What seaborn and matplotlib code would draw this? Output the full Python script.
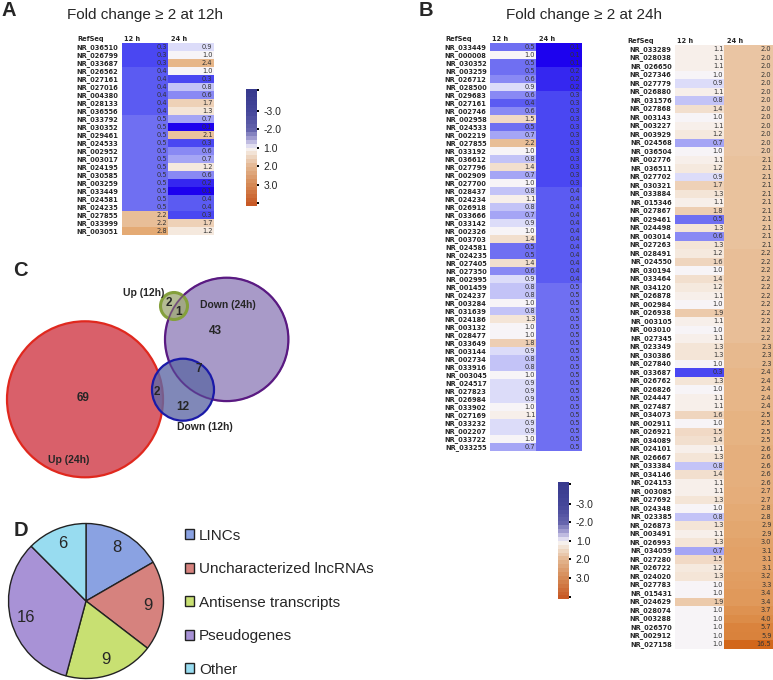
import numpy as np
import matplotlib
matplotlib.use("Agg")
import matplotlib.pyplot as plt
import seaborn as sns
import pandas as pd
from matplotlib.colors import LinearSegmentedColormap, ListedColormap, Normalize, to_rgba
from matplotlib.patches import Circle
from matplotlib.cm import ScalarMappable

sns.set_style("white")
plt.rcParams['font.family'] = ['Liberation Sans', 'DejaVu Sans']

# ---------------- data ----------------
# panel A : fold change >= 2 at 12h
a_ids = ["NR_036510", "NR_026799", "NR_033687", "NR_026562", "NR_027161", "NR_027016",
         "NR_004380", "NR_028133", "NR_036556", "NR_033792", "NR_030352", "NR_029461",
         "NR_024533", "NR_002952", "NR_003017", "NR_024195", "NR_030585", "NR_003259",
         "NR_033449", "NR_024581", "NR_024235", "NR_027855", "NR_033999", "NR_003051"]
a_12h = [0.3, 0.3, 0.3, 0.4, 0.4, 0.4, 0.4, 0.4, 0.4, 0.5, 0.5, 0.5,
         0.5, 0.5, 0.5, 0.5, 0.5, 0.5, 0.5, 0.5, 0.5, 2.2, 2.2, 2.8]
a_24h = [0.9, 1.0, 2.4, 1.0, 0.3, 0.8, 0.6, 1.7, 1.3, 0.7, 0.1, 2.1,
         0.3, 0.6, 0.7, 1.2, 0.6, 0.2, 0.1, 0.4, 0.4, 0.3, 1.7, 1.2]

# panel B left : down at 24h
bl_ids = ["NR_033449", "NR_000008", "NR_030352", "NR_003259", "NR_026712", "NR_028500",
          "NR_029683", "NR_027161", "NR_002746", "NR_002958", "NR_024533", "NR_002219",
          "NR_027855", "NR_033192", "NR_036612", "NR_027796", "NR_002909", "NR_027700",
          "NR_028437", "NR_024234", "NR_026918", "NR_033666", "NR_033142", "NR_002326",
          "NR_003703", "NR_024581", "NR_024235", "NR_027405", "NR_027350", "NR_002995",
          "NR_001459", "NR_024237", "NR_003284", "NR_031639", "NR_024186", "NR_003132",
          "NR_028477", "NR_033649", "NR_003144", "NR_002734", "NR_033916", "NR_003045",
          "NR_024517", "NR_027823", "NR_026984", "NR_033902", "NR_027169", "NR_033232",
          "NR_002207", "NR_033722", "NR_033255"]
bl_12h = [0.5, 1.0, 0.5, 0.5, 0.6, 0.9, 0.6, 0.4, 0.6, 1.5, 0.5, 0.7,
          2.2, 1.0, 0.8, 1.4, 0.7, 1.0, 0.8, 1.1, 0.8, 0.7, 0.9, 1.0,
          1.4, 0.5, 0.5, 1.4, 0.6, 0.9, 0.8, 0.8, 1.0, 0.8, 1.3, 1.0,
          1.0, 1.8, 0.9, 0.8, 0.8, 1.0, 0.9, 0.9, 0.9, 1.0, 1.1, 0.9,
          0.9, 1.0, 0.7]
bl_24h = [0.1, 0.1, 0.1, 0.2, 0.2, 0.2, 0.3, 0.3, 0.3, 0.3, 0.3, 0.3,
          0.3, 0.3, 0.3, 0.3, 0.3, 0.3, 0.4, 0.4, 0.4, 0.4, 0.4, 0.4,
          0.4, 0.4, 0.4, 0.4, 0.4, 0.4, 0.5, 0.5, 0.5, 0.5, 0.5, 0.5,
          0.5, 0.5, 0.5, 0.5, 0.5, 0.5, 0.5, 0.5, 0.5, 0.5, 0.5, 0.5,
          0.5, 0.5, 0.5]

# panel B right : up at 24h
br_ids = ["NR_033289", "NR_028038", "NR_026650", "NR_027346", "NR_027779", "NR_026880",
          "NR_031576", "NR_027868", "NR_003143", "NR_003227", "NR_003929", "NR_024568",
          "NR_036504", "NR_002776", "NR_036511", "NR_027702", "NR_030321", "NR_033884",
          "NR_015346", "NR_027867", "NR_029461", "NR_024498", "NR_003014", "NR_027263",
          "NR_028491", "NR_024550", "NR_030194", "NR_033464", "NR_034120", "NR_026878",
          "NR_002984", "NR_026938", "NR_003105", "NR_003010", "NR_027345", "NR_023349",
          "NR_030386", "NR_027840", "NR_033687", "NR_026762", "NR_026826", "NR_024447",
          "NR_027487", "NR_034073", "NR_002911", "NR_026921", "NR_034089", "NR_024101",
          "NR_026667", "NR_033384", "NR_034146", "NR_024153", "NR_003085", "NR_027692",
          "NR_024348", "NR_023385", "NR_026873", "NR_003491", "NR_026993", "NR_034059",
          "NR_027280", "NR_026722", "NR_024020", "NR_027783", "NR_015431", "NR_024629",
          "NR_028074", "NR_003288", "NR_026570", "NR_002912", "NR_027158"]
br_12h = [1.1, 1.1, 1.1, 1.0, 0.9, 1.1, 0.8, 1.4, 1.0, 1.1, 1.2, 0.7,
          1.0, 1.1, 1.2, 0.9, 1.7, 1.3, 1.1, 1.8, 0.5, 1.3, 0.6, 1.3,
          1.2, 1.6, 1.0, 1.4, 1.2, 1.1, 1.0, 1.9, 1.1, 1.0, 1.1, 1.3,
          1.3, 1.0, 0.3, 1.3, 1.0, 1.1, 1.1, 1.6, 1.0, 1.5, 1.4, 1.1,
          1.3, 0.8, 1.4, 1.1, 1.1, 1.3, 1.0, 0.8, 1.3, 1.1, 1.3, 0.7,
          1.5, 1.2, 1.3, 1.0, 1.0, 1.9, 1.0, 1.0, 1.0, 1.0, 1.0]
br_24h = [2.0, 2.0, 2.0, 2.0, 2.0, 2.0, 2.0, 2.0, 2.0, 2.0, 2.0, 2.0,
          2.0, 2.1, 2.1, 2.1, 2.1, 2.1, 2.1, 2.1, 2.1, 2.1, 2.1, 2.1,
          2.2, 2.2, 2.2, 2.2, 2.2, 2.2, 2.2, 2.2, 2.2, 2.2, 2.2, 2.3,
          2.3, 2.3, 2.4, 2.4, 2.4, 2.4, 2.4, 2.5, 2.5, 2.5, 2.5, 2.6,
          2.6, 2.6, 2.6, 2.6, 2.7, 2.7, 2.8, 2.8, 2.9, 2.9, 3.0, 3.1,
          3.1, 3.1, 3.2, 3.3, 3.4, 3.4, 3.7, 4.0, 5.7, 5.9, 16.5]

cbar_labels = ["3.0", "2.0", "1.0", "-2.0", "-3.0"]

# panel C : Venn counts
venn_sets = ["Up (24h)", "Down (24h)", "Down (12h)", "Up (12h)"]
venn_counts = [69, 43, 12, 2, 7, 2, 1]

# panel D : lncRNA classes
classes = ["LINCs", "Uncharacterized lncRNAs", "Antisense transcripts", "Pseudogenes", "Other"]
class_counts = [8, 9, 9, 16, 6]

# ---------------- styles ----------------
W, H = 773, 680
fig = plt.figure(figsize=(W / 100, H / 100), dpi=100)


def box(x0, y0, x1, y1):
    return [x0 / W, 1 - y1 / H, (x1 - x0) / W, (y1 - y0) / H]


LMIN, LMAX = -3.4, 4.1
nodes = [(-3.4, "#1c00ee"), (-2.32, "#3628f0"), (-1.74, "#4a48f2"), (-1.32, "#5c5cf2"),
         (-1.0, "#7070f2"), (-0.74, "#8a8af4"), (-0.51, "#a6a6f5"), (-0.32, "#c2c2f7"),
         (-0.15, "#dedef9"), (0.0, "#f7f5f8"), (0.14, "#f7efe9"), (0.38, "#f4e4d6"),
         (0.58, "#f1dac6"), (0.85, "#edcdb2"), (1.0, "#eac6a4"), (1.5, "#e4a972"),
         (2.0, "#dc8c48"), (4.1, "#d2661a")]
cell_cmap = LinearSegmentedColormap.from_list(
    "fc", [((v - LMIN) / (LMAX - LMIN), c) for v, c in nodes])

# overlay axes in pixel units for labels and the venn diagram
ov = fig.add_axes([0, 0, 1, 1])
ov.set_xlim(0, W)
ov.set_ylim(H, 0)
ov.axis('off')


def draw_table(rect, ids, v12, v24):
    ax = fig.add_axes(rect)
    df = pd.DataFrame({"12 h": v12, "24 h": v24}, index=ids)
    sns.heatmap(np.log2(df), cmap=cell_cmap, vmin=LMIN, vmax=LMAX, cbar=False, ax=ax,
                xticklabels=False, yticklabels=True, linewidths=0)
    ax.set_yticklabels(ids, rotation=0, fontsize=4.8, fontweight='bold',
                       family='DejaVu Sans')
    ax.tick_params(axis='y', length=0, pad=2.4)
    ax.set_ylabel('')
    for i in range(len(ids)):
        ax.text(0.985, i + 0.5, f"{v12[i]:.1f}", ha='right', va='center',
                fontsize=4.8, color='#333333', family='DejaVu Sans')
        ax.text(1.97, i + 0.5, f"{v24[i]:.1f}", ha='right', va='center',
                fontsize=4.8, color='#333333', family='DejaVu Sans')
    hk = dict(va='center', fontsize=4.8, fontweight='bold', family='DejaVu Sans',
              clip_on=False)
    ax.text(-0.97, -0.5, "RefSeq", ha='left', **hk)
    ax.text(0.05, -0.5, "12 h", ha='left', **hk)
    ax.text(1.07, -0.5, "24 h", ha='left', **hk)
    return ax


draw_table(box(121.7, 43.3, 214, 235.3), a_ids, a_12h, a_24h)
draw_table(box(490, 43.3, 581.7, 451.3), bl_ids, bl_12h, bl_24h)
draw_table(box(675, 45, 773, 648.5), br_ids, br_12h, br_24h)

# colour key bars
cb_nodes = [(-0.15, "#c85a26"), (1.0, "#d68c58"), (2.0, "#e4b894"), (2.8, "#f4ebe2"),
            (3.0, "#f8f6f8"), (3.15, "#dcd8ee"), (3.5, "#a8a4d4"), (4.0, "#6564ac"),
            (5.0, "#45479a"), (6.17, "#383a8e")]
lo, hi = -0.15, 6.17
cb_smooth = LinearSegmentedColormap.from_list(
    "cb", [((v - lo) / (hi - lo), c) for v, c in cb_nodes])
cb_cmap = ListedColormap(cb_smooth(np.linspace(0, 1, 30)))
for rect in [box(246, 89, 257, 206), box(558.3, 482.3, 569.3, 599.3)]:
    cax = fig.add_axes(rect)
    cb = fig.colorbar(ScalarMappable(Normalize(lo, hi), cb_cmap), cax=cax)
    cb.outline.set_visible(False)
    cb.set_ticks([0, 1, 2, 3, 4, 5, 6.1])
    cb.set_ticklabels([""] + cbar_labels + [""])
    cax.tick_params(axis='y', direction='inout', length=3.5, width=1.4, color='black',
                    pad=3, labelsize=7.5)

# panel labels and titles
lk = dict(fontsize=14.5, fontweight='bold', ha='center', va='center')
ov.text(8.5, 10.5, "A", **lk)
ov.text(426, 10.5, "B", **lk)
ov.text(20, 270.5, "C", **lk)
ov.text(20.5, 530.5, "D", **lk)
ov.text(67, 14.5, "Fold change \u2265 2 at 12h", fontsize=11, ha='left', va='center')
ov.text(506, 14.5, "Fold change \u2265 2 at 24h", fontsize=11, ha='left', va='center')

# venn diagram
circles = [(85, 399.3, 78, "#d9606a", 1.0, "#e0281e", 1.6),
           (226.7, 339.4, 61.7, "#a89ac8", 1.0, "#5a1a82", 1.6),
           (183, 389.7, 31, "#606aa6", 0.8, "#1a1aa8", 1.6),
           (174, 306, 13.5, "#a1ab79", 0.8, "#84a03c", 2.2)]
for cx, cy, r, fc, al, ec, lw in circles:
    ov.add_patch(Circle((cx, cy), r, facecolor=to_rgba(fc, al), edgecolor=ec, linewidth=lw))
# outline of the Down (24h) circle shows through the smaller circles
cx, cy, r = circles[1][:3]
ov.add_patch(Circle((cx, cy), r, facecolor='none', edgecolor=circles[1][5],
                    linewidth=1.0, alpha=0.6))

vk = dict(fontweight='bold', ha='center', va='center')
count_pos = [(83.3, 398.3), (215.7, 330.7), (182.7, 407.3), (156.7, 391.7),
             (199, 369), (169.3, 303.3), (179, 311.7)]
for (x, y), n in zip(count_pos, venn_counts):
    ov.text(x, y, str(n), fontsize=8.5, **vk)
set_pos = [(68.3, 460), (228, 305), (204.7, 427.3), (143.5, 293)]
for (x, y), s in zip(set_pos, venn_sets):
    ov.text(x, y, s, fontsize=7.5, **vk)

# pie chart
pie_colors = ["#8aa2e2", "#d6827e", "#c8e072", "#a892d6", "#98dcf0"]
pr = 77.5 * 1.02
pax = fig.add_axes(box(86 - pr, 601 - pr, 86 + pr, 601 + pr))
total = sum(class_counts)
wedges, _, autotexts = pax.pie(class_counts, colors=pie_colors, startangle=90,
                               counterclock=False, pctdistance=0.8,
                               autopct=lambda p: f"{round(p * total / 100)}",
                               wedgeprops=dict(edgecolor='#222222', linewidth=1.0),
                               textprops=dict(fontsize=12))
pax.set_xlim(-1.02, 1.02)
pax.set_ylim(-1.02, 1.02)
fig.legend(wedges, classes, loc='upper left', bbox_to_anchor=(185 / W, 1 - 528.5 / H),
           frameon=False, fontsize=11, handlelength=0.6, handleheight=0.6,
           handletextpad=0.3, labelspacing=1.28, borderpad=0, borderaxespad=0)

fig.savefig("out.png", dpi=100)
